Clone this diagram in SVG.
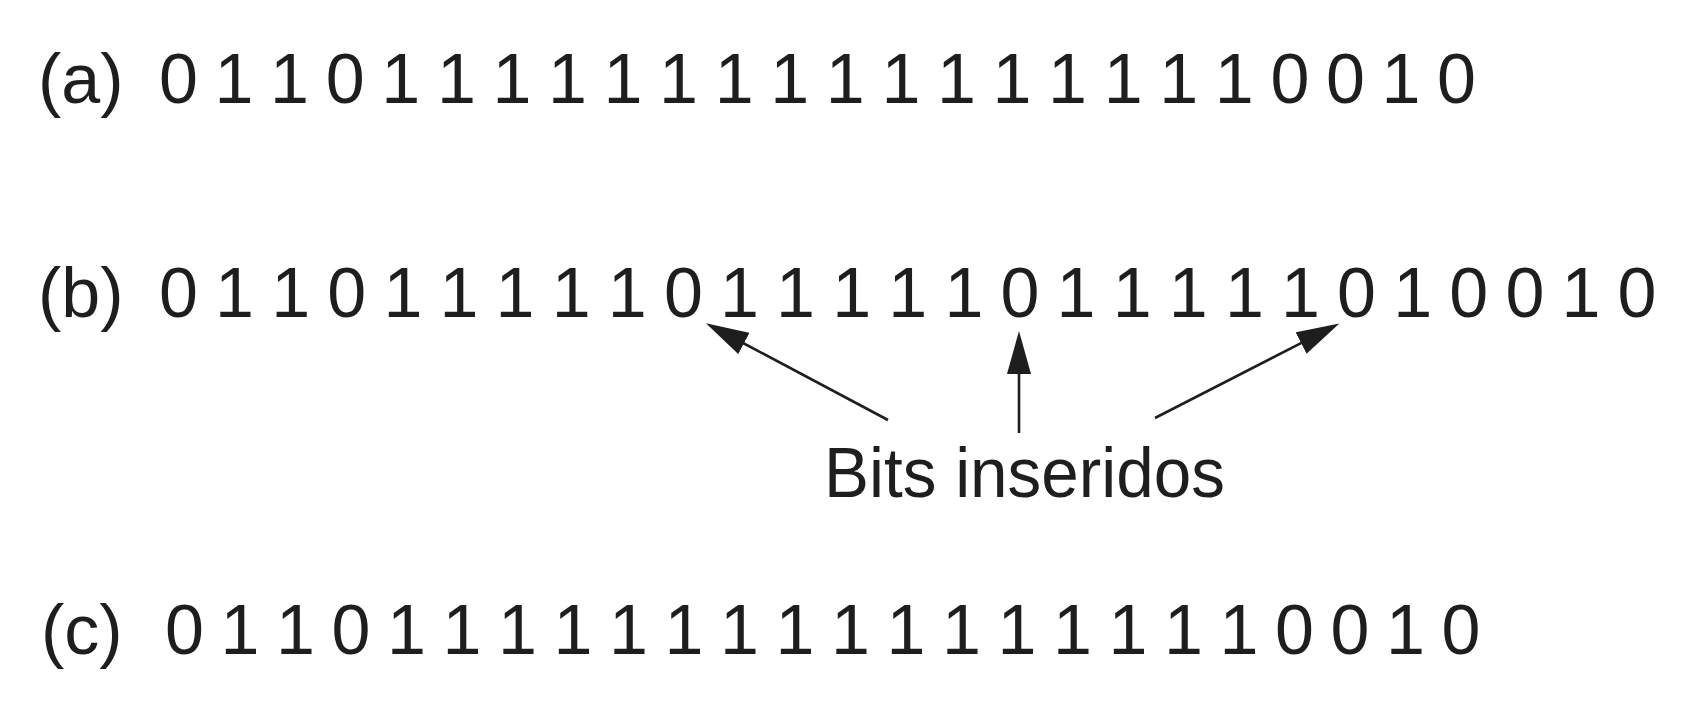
<svg xmlns="http://www.w3.org/2000/svg" width="1708" height="726" viewBox="0 0 1708 726">
<style>
.t{font-family:"Liberation Sans",Arial,Helvetica,sans-serif;font-size:70px;fill:#1e1e1e}
.c{stroke:#1e1e1e;stroke-width:2.6;fill:none}
</style>
<defs>
<marker id="ah" markerUnits="userSpaceOnUse" markerWidth="44" markerHeight="24" viewBox="0 0 44 24" refX="1" refY="12" orient="auto">
<path d="M0,0 L43,12 L0,24 z" fill="#1e1e1e"/>
</marker>
</defs>
<rect width="1708" height="726" fill="#fff"/>
<g id="row-a">
<text class="t" x="38" y="103">(a)</text>
<text class="t" y="103" x="159 214.6 270.1 325.7 381.3 436.9 492.4 548 603.6 659.1 714.7 770.3 825.8 881.4 937 992.6 1048.1 1103.7 1159.3 1214.8 1270.4 1326 1381.5 1437.1">011011111111111111110010</text>
</g>
<g id="row-b">
<text class="t" x="38" y="317">(b)</text>
<text class="t" y="317" x="159 215.1 271.2 327.3 383.4 439.5 495.6 551.7 607.8 663.9 720 776.1 832.2 888.3 944.4 1000.5 1056.6 1112.7 1168.8 1224.9 1281 1337.1 1393.2 1449.3 1505.4 1561.5 1617.6">011011111011111011111010010</text>
</g>
<g id="row-c">
<text class="t" x="41" y="654">(c)</text>
<text class="t" y="654" x="165 220.5 276 331.5 387 442.5 498 553.5 609 664.5 720 775.5 831 886.5 942 997.5 1053 1108.5 1164 1219.5 1275 1330.5 1386 1441.5">011011111111111111110010</text>
</g>
<g id="label">
<text class="t" x="824" y="497" textLength="401" lengthAdjust="spacingAndGlyphs">Bits inseridos</text>
</g>
<g id="connectors">
<line class="c" x1="888" y1="420" x2="743" y2="343" marker-end="url(#ah)"/>
<line class="c" x1="1019" y1="433" x2="1019" y2="373" marker-end="url(#ah)"/>
<line class="c" x1="1155" y1="418" x2="1302" y2="342.6" marker-end="url(#ah)"/>
</g>
</svg>
